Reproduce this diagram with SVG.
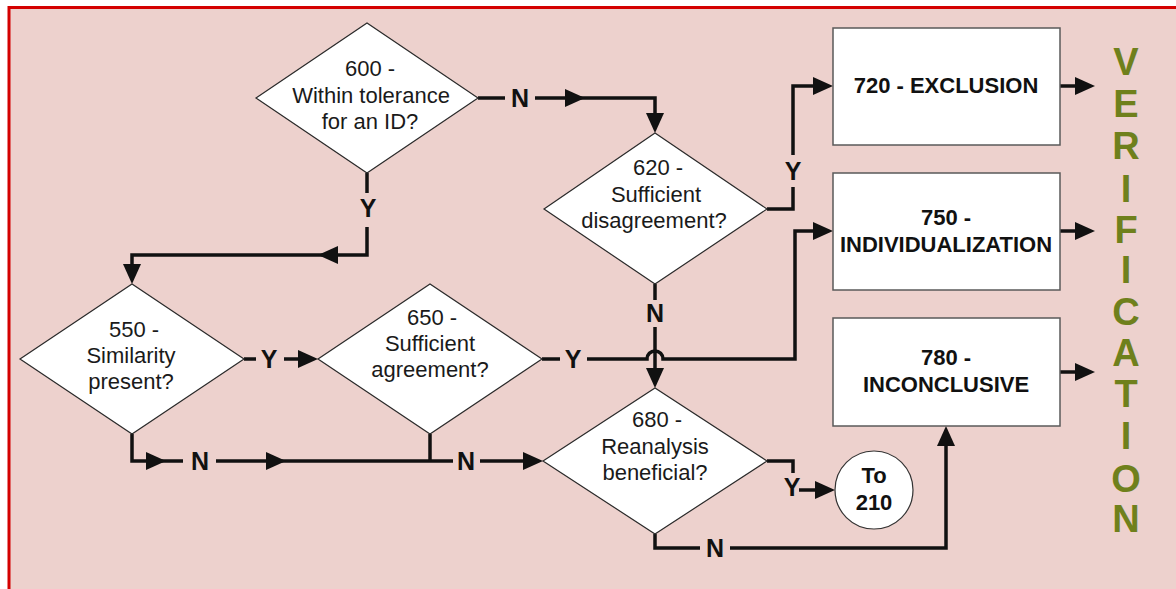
<svg xmlns="http://www.w3.org/2000/svg" xmlns:xlink="http://www.w3.org/1999/xlink" width="1176" height="589" viewBox="0 0 1176 589">
<style>
.dia{fill:#ffffff;stroke:#2a2a2a;stroke-width:1.2}
.box{fill:#ffffff;stroke:#5a5a5a;stroke-width:1.5}
.dt{font-family:"Liberation Sans",Arial,sans-serif;font-size:22px;fill:#1a1a1a;text-anchor:middle}
.bt{font-family:"Liberation Sans",Arial,sans-serif;font-size:22px;font-weight:bold;fill:#111;text-anchor:middle}
.lbl{font-family:"Liberation Sans",Arial,sans-serif;font-size:25px;font-weight:bold;fill:#111;text-anchor:middle}
.ln{fill:none;stroke:#111;stroke-width:3.5;stroke-linejoin:miter}
.ver{font-family:"Liberation Sans",Arial,sans-serif;font-size:38px;font-weight:bold;fill:#6f801c;text-anchor:middle}
</style>
<defs>
<path id="ah" d="M0,0 L-20,-9 L-20,9 Z" fill="#111"/>
</defs>
<rect x="0" y="0" width="1176" height="589" fill="#ffffff"/>
<rect x="9" y="7.5" width="1180" height="600" fill="#edd1cd" stroke="#d40000" stroke-width="3"/>

<g id="connectors">
<!-- 600 N -> 620 -->
<path class="ln" d="M478,98 H505"/>
<path class="ln" d="M535,98 H655 V116"/>
<use xlink:href="#ah" transform="translate(585,98)"/>
<use xlink:href="#ah" transform="translate(655,133) rotate(90)"/>
<text class="lbl" x="520" y="107">N</text>
<!-- 600 Y -> 550 -->
<path class="ln" d="M367,173 V193"/>
<path class="ln" d="M367,227 V255 H132 V266"/>
<use xlink:href="#ah" transform="translate(318,255) rotate(180)"/>
<use xlink:href="#ah" transform="translate(132,284) rotate(90)"/>
<text class="lbl" x="368" y="217">Y</text>
<!-- 550 Y -> 650 -->
<path class="ln" d="M244,359 H256"/>
<path class="ln" d="M284,359 H305"/>
<use xlink:href="#ah" transform="translate(318,359)"/>
<text class="lbl" x="269" y="368">Y</text>
<!-- 550 N / 650 N -> 680 -->
<path class="ln" d="M132,434 V461 H183"/>
<path class="ln" d="M216,461 H453"/>
<path class="ln" d="M430,434 V461"/>
<path class="ln" d="M480,461 H530"/>
<use xlink:href="#ah" transform="translate(166,461)"/>
<use xlink:href="#ah" transform="translate(286,461)"/>
<use xlink:href="#ah" transform="translate(543,461)"/>
<text class="lbl" x="200" y="470">N</text>
<text class="lbl" x="466" y="470">N</text>
<!-- 650 Y -> 750 -->
<path class="ln" d="M542,359 H560"/>
<path class="ln" d="M587,359 H647 A8,8 0 0 1 663,359 H795 V231 H820"/>
<use xlink:href="#ah" transform="translate(833,231)"/>
<text class="lbl" x="573" y="368">Y</text>
<!-- 620 Y -> 720 -->
<path class="ln" d="M767,209 H793 V187"/>
<path class="ln" d="M793,155 V86 H820"/>
<use xlink:href="#ah" transform="translate(833,86)"/>
<text class="lbl" x="793" y="180">Y</text>
<!-- 620 N -> 680 -->
<path class="ln" d="M655,284 V300"/>
<path class="ln" d="M655,327 V372"/>
<use xlink:href="#ah" transform="translate(655,388) rotate(90)"/>
<text class="lbl" x="655" y="322">N</text>
<!-- 680 Y -> To 210 -->
<path class="ln" d="M767,461 H793 V473"/>
<path class="ln" d="M799,490 H818"/>
<use xlink:href="#ah" transform="translate(835,490)"/>
<text class="lbl" x="792" y="496">Y</text>
<!-- 680 N -> 780 -->
<path class="ln" d="M655,534 V548 H700"/>
<path class="ln" d="M730,548 H946 V444"/>
<use xlink:href="#ah" transform="translate(946,426) rotate(-90)"/>
<text class="lbl" x="715" y="557">N</text>
<!-- box outputs -->
<path class="ln" d="M1060,86 H1080"/>
<path class="ln" d="M1060,231 H1080"/>
<path class="ln" d="M1060,372 H1080"/>
<use xlink:href="#ah" transform="translate(1095,86)"/>
<use xlink:href="#ah" transform="translate(1095,231)"/>
<use xlink:href="#ah" transform="translate(1095,372)"/>
</g>

<g id="n600">
<polygon class="dia" points="256,98 367,23 478,98 367,173"/>
<text class="dt" x="370" y="76">600 -</text>
<text class="dt" x="371" y="103">Within tolerance</text>
<text class="dt" x="370" y="129">for an ID?</text>
</g>
<g id="n620">
<polygon class="dia" points="544,209 655,133 767,209 655,284"/>
<text class="dt" x="658" y="175">620 -</text>
<text class="dt" x="656" y="202">Sufficient</text>
<text class="dt" x="654" y="228">disagreement?</text>
</g>
<g id="n550">
<polygon class="dia" points="20,359 132,284 244,359 132,434"/>
<text class="dt" x="134" y="337">550 -</text>
<text class="dt" x="131" y="363">Similarity</text>
<text class="dt" x="131" y="389">present?</text>
</g>
<g id="n650">
<polygon class="dia" points="318,359 430,284 542,359 430,434"/>
<text class="dt" x="432" y="325">650 -</text>
<text class="dt" x="430" y="351">Sufficient</text>
<text class="dt" x="430" y="377">agreement?</text>
</g>
<g id="n680">
<polygon class="dia" points="543,461 655,388 767,461 655,534"/>
<text class="dt" x="657" y="427">680 -</text>
<text class="dt" x="655" y="454">Reanalysis</text>
<text class="dt" x="655" y="480">beneficial?</text>
</g>
<g id="n720">
<rect class="box" x="833" y="28" width="227" height="117"/>
<text class="bt" x="946" y="93">720 - EXCLUSION</text>
</g>
<g id="n750">
<rect class="box" x="833" y="173" width="227" height="117"/>
<text class="bt" x="946" y="225">750 -</text>
<text class="bt" x="946" y="252">INDIVIDUALIZATION</text>
</g>
<g id="n780">
<rect class="box" x="833" y="318" width="227" height="108"/>
<text class="bt" x="946" y="365">780 -</text>
<text class="bt" x="946" y="392">INCONCLUSIVE</text>
</g>
<g id="n210">
<circle cx="874" cy="490" r="39" fill="#ffffff" stroke="#333" stroke-width="1.2"/>
<text class="bt" x="874" y="483">To</text>
<text class="bt" x="874" y="510">210</text>
</g>
<g id="verification">
<text class="ver" x="1126" y="75">V</text>
<text class="ver" x="1126" y="117">E</text>
<text class="ver" x="1126" y="159">R</text>
<text class="ver" x="1126" y="202">I</text>
<text class="ver" x="1126" y="243">F</text>
<text class="ver" x="1126" y="283">I</text>
<text class="ver" x="1126" y="325">C</text>
<text class="ver" x="1126" y="366">A</text>
<text class="ver" x="1126" y="407">T</text>
<text class="ver" x="1126" y="449">I</text>
<text class="ver" x="1126" y="492">O</text>
<text class="ver" x="1126" y="532">N</text>
</g>
</svg>
